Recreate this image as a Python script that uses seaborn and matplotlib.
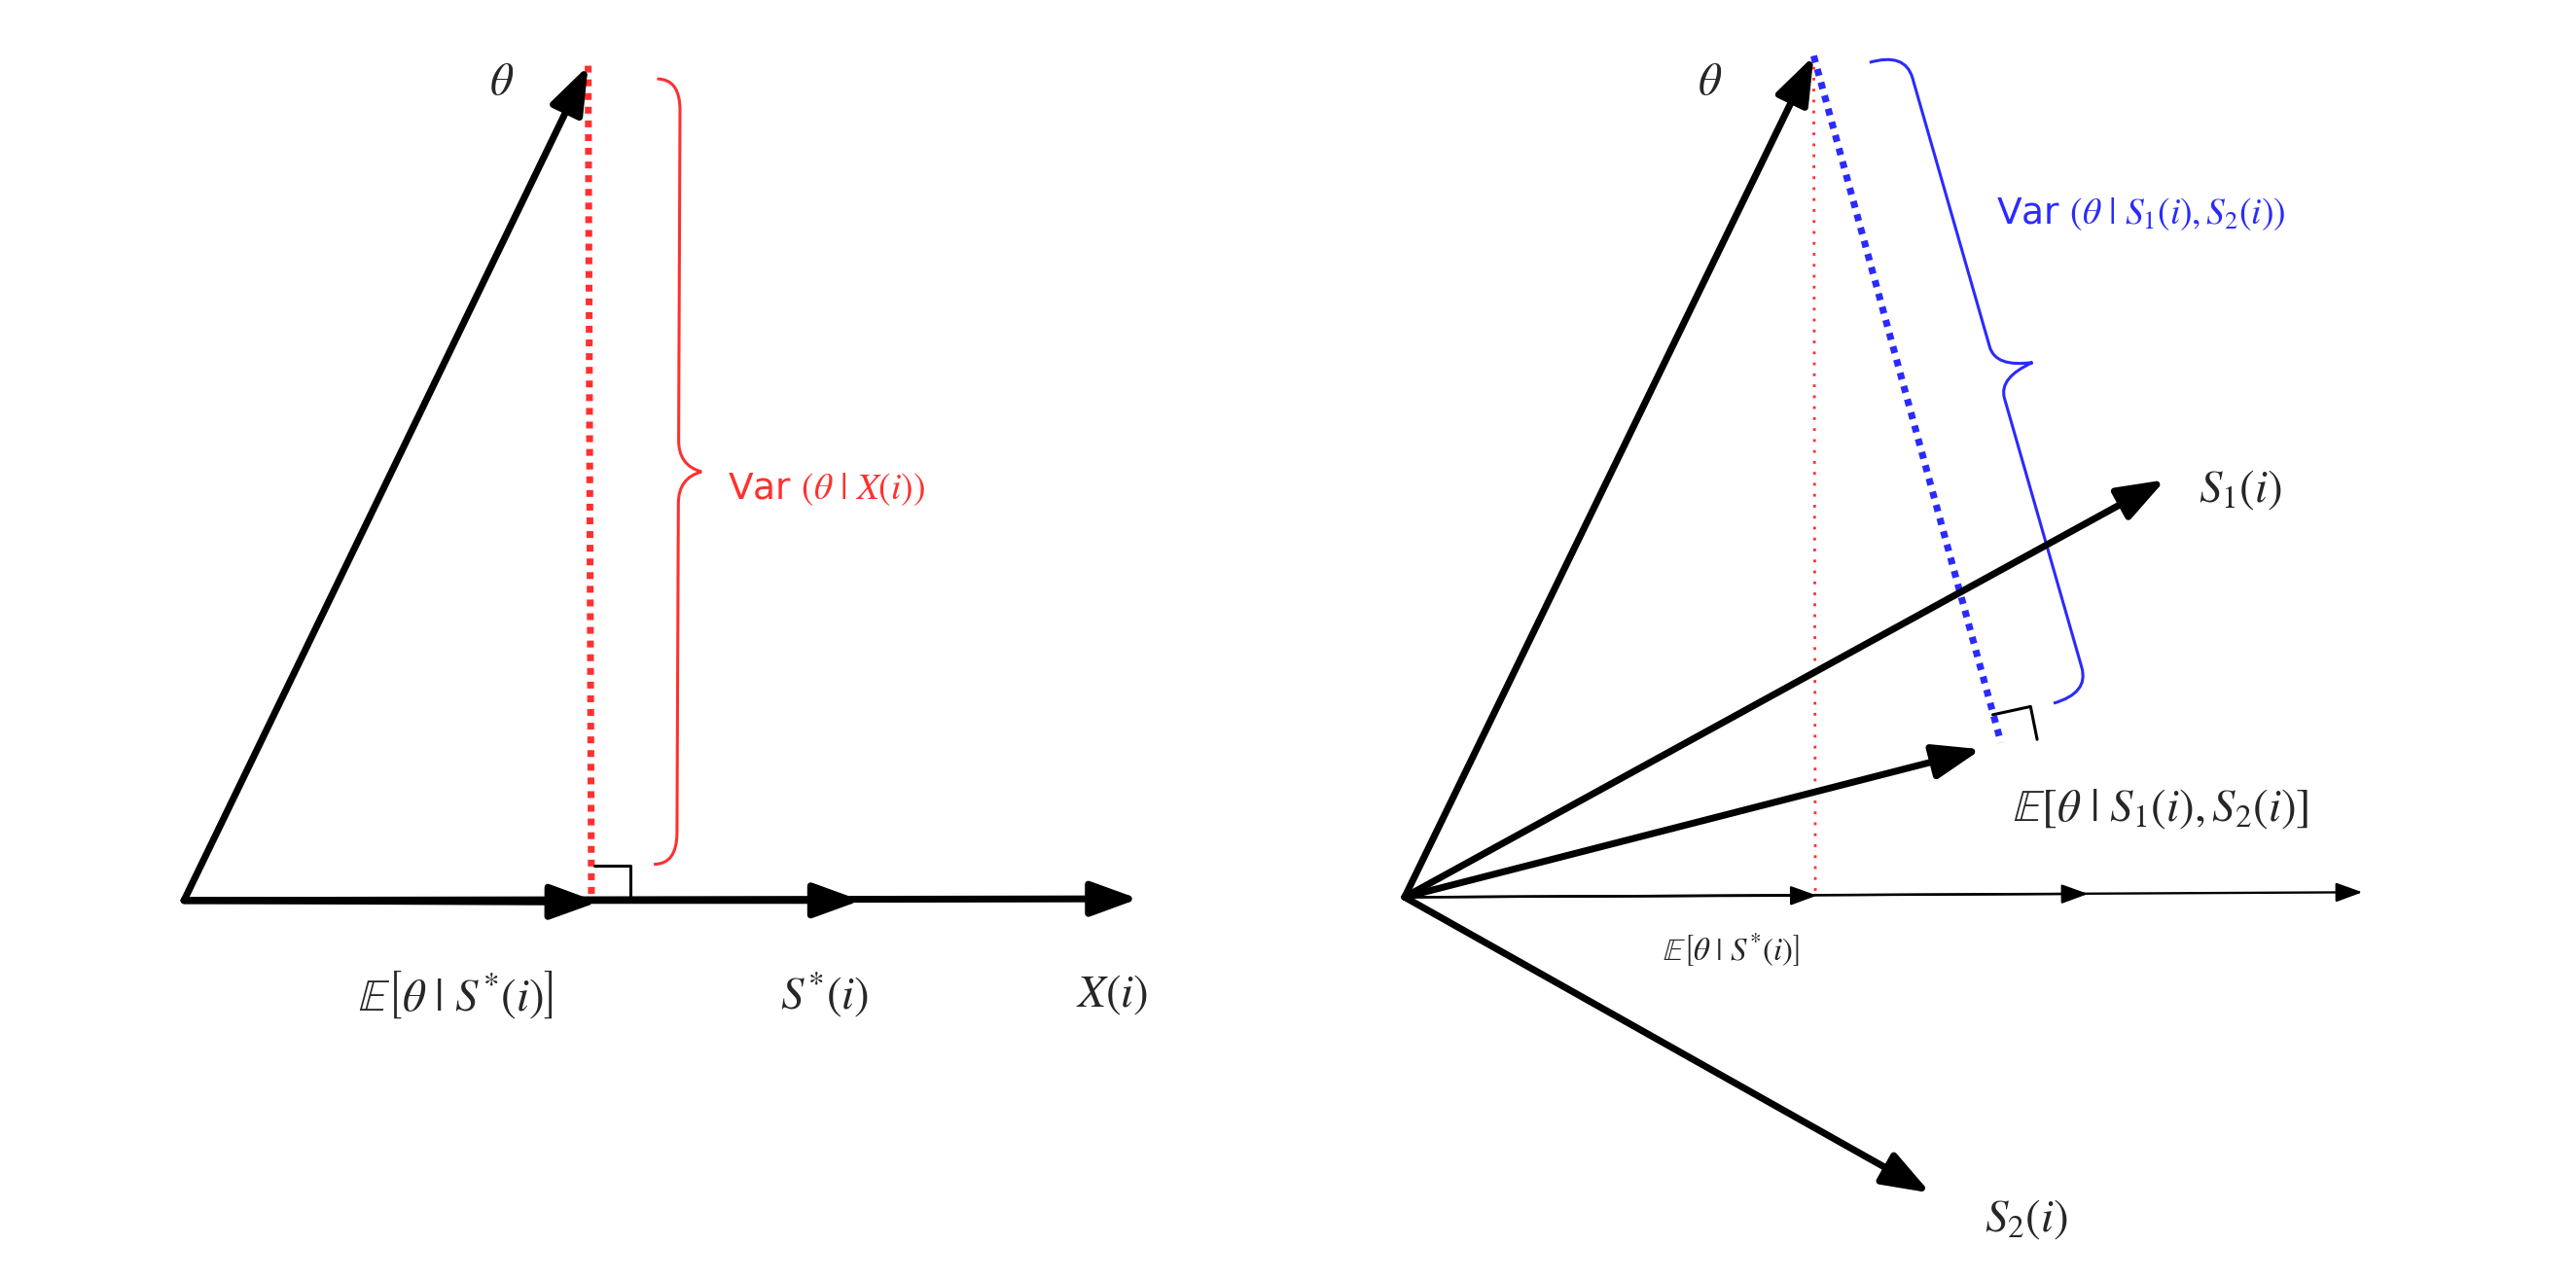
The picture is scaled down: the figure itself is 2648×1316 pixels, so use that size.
import matplotlib
matplotlib.use("Agg")
import matplotlib.pyplot as plt
import seaborn as sns
import numpy as np
import pandas as pd
from matplotlib.path import Path
from matplotlib.patches import PathPatch

plt.rcParams["mathtext.fontset"] = "stix"
sns.set_style("white")
S = 2648 / 1568  # scale factor for sizes

# Left diagram (coordinates in a 1568x779 canvas)
L_origin = (112, 548)
L_vectors = {"theta": (358, 40), "E": (364, 549), "S": (524, 548), "X": (693, 547)}
# Right diagram
R_origin = (855, 546)
R_vectors = {"theta": (1104, 34), "S1": (1318, 292), "E": (1206, 456), "S2": (1175, 726),
             "a1": (1106, 545), "a2": (1271, 544), "a3": (1438, 543)}

fig = plt.figure(figsize=(26.48, 13.16), dpi=100)
ax = fig.add_axes([0, 0, 1, 1])
ax.set_xlim(0, 1568); ax.set_ylim(779, 0); ax.axis("off")

def arrow(o, t, lw=3, ms=16):
    ax.annotate("", xy=t, xytext=o,
                arrowprops=dict(arrowstyle="-|>,head_length=1.1,head_width=0.4",
                                color="black", lw=lw * S, mutation_scale=ms * S,
                                shrinkA=0, shrinkB=0))

def brace(p0, p1, bulge, color, lw=1.3):
    p0 = np.array(p0, float); p1 = np.array(p1, float)
    d = p1 - p0; L = np.linalg.norm(d); u = d / L
    n = np.array([-u[1], u[0]]) * bulge
    mid = p0 + d / 2
    r = 0.04 * L
    verts = [p0, p0 + n*0.5, p0 + u*r + n*0.5,
             mid - u*r + n*0.5, mid - u*r*0.2 + n*0.5, mid + n,
             mid + u*r*0.2 + n*0.5, mid + u*r + n*0.5,
             p1 - u*r + n*0.5, p1 + n*0.5, p1]
    codes = [Path.MOVETO, Path.CURVE3, Path.CURVE3, Path.LINETO, Path.CURVE3, Path.CURVE3,
             Path.CURVE3, Path.CURVE3, Path.LINETO, Path.CURVE3, Path.CURVE3]
    ax.add_patch(PathPatch(Path(verts, codes), fill=False, color=color, lw=lw * S))

def dotted(p0, p1, color, lw, dash):
    df = pd.DataFrame({"x": [p0[0], p1[0]], "y": [p0[1], p1[1]]})
    sns.lineplot(data=df, x="x", y="y", ax=ax, color=color, lw=lw * S, sort=False,
                 linestyle=(0, dash), estimator=None)

FS = 20 * S
# ---- Left
dotted(L_vectors["theta"], (360, 548), "#ff3030", 3, (1, 1))
for k in ["X", "S", "E", "theta"]:
    arrow(L_origin, L_vectors[k])
ax.plot([362, 384, 384], [527, 527, 548], color="black", lw=1.3 * S)
brace((400, 48), (398, 526), -28, "#ff3030")
ax.text(443, 298, r"Var $(\theta\ |\ X(i))$", color="#ff3030", fontsize=16 * S, va="center",
        family="DejaVu Sans")
ax.text(298, 50, r"$\theta$", fontsize=FS, va="center")
ax.text(218, 605, r"$\mathbb{E}\left[\theta\ |\ S^{*}(i)\right]$", fontsize=FS, va="center")
ax.text(475, 605, r"$S^{*}(i)$", fontsize=FS, va="center")
ax.text(655, 605, r"$X(i)$", fontsize=FS, va="center")

# ---- Right
dotted(R_vectors["theta"], (1105, 546), "#ff3030", 1.2, (1, 3))
dotted(R_vectors["theta"], (1218, 452), "#2a2aff", 3, (1, 1))
for k in ["a1", "a2", "a3"]:
    arrow(R_origin, R_vectors[k], lw=1, ms=9)
for k in ["theta", "S1", "E", "S2"]:
    arrow(R_origin, R_vectors[k])
ax.plot([1213, 1236, 1240], [435, 430, 450], color="black", lw=1.3 * S)
brace((1138, 38), (1250, 428), -45, "#2a2aff")
ax.text(1215, 130, r"Var $(\theta\ |\ S_1(i), S_2(i))$", color="#2a2aff", fontsize=16 * S,
        va="center", family="DejaVu Sans")
ax.text(1033, 50, r"$\theta$", fontsize=FS, va="center")
ax.text(1338, 298, r"$S_1(i)$", fontsize=FS, va="center")
ax.text(1225, 492, r"$\mathbb{E}[\theta\ |\ S_1(i), S_2(i)]$", fontsize=FS, va="center")
ax.text(1012, 578, r"$\mathbb{E}\left[\theta\ |\ S^{*}(i)\right]$", fontsize=14 * S, va="center")
ax.text(1208, 742, r"$S_2(i)$", fontsize=FS, va="center")

fig.savefig("out.png", dpi=100)
